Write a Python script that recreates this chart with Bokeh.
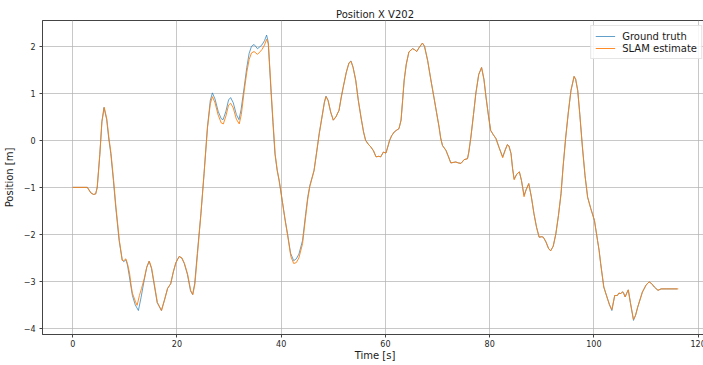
from bokeh.plotting import figure
from bokeh.models import Range1d, FixedTicker, Legend, LegendItem
from bokeh.embed import file_html
from bokeh.resources import INLINE

# ---------------- data ----------------
gt_t = [0, 2.8, 3.5, 4.0, 4.4, 4.7, 5.2, 5.6, 6.0, 6.5, 6.9, 7.3, 7.8, 8.25, 8.9, 9.5, 9.8,
        10.2, 10.5, 10.8, 11.45, 12.0, 12.6, 13.1, 13.7, 14.2, 14.65, 15.1, 15.6, 16.2, 17.0,
        17.6, 18.2, 18.8, 19.3, 19.8, 20.4, 20.9, 21.4, 22.0, 22.6, 23.0, 23.4, 23.9, 24.6,
        25.2, 25.85, 26.4, 26.8, 27.3, 27.9, 28.5, 28.85, 29.4, 29.9, 30.3, 30.8, 31.4, 31.9,
        32.3, 32.9, 33.4, 33.85, 34.3, 34.8, 35.45, 35.9, 36.3, 36.8, 37.2, 37.5, 38.0, 38.4,
        38.8, 39.2, 39.6, 40.2, 40.7, 41.2, 41.8, 42.4, 42.9, 43.4, 44.1, 44.7, 45.1, 45.5,
        46.3, 46.8, 47.3, 47.9, 48.3, 48.6, 49.0, 49.5, 50.0, 50.5, 51.1, 51.5, 51.9, 52.5,
        53.0, 53.4, 53.8, 54.3, 54.8, 55.3, 55.8, 56.2, 56.7, 57.2, 57.7, 58.2, 58.7, 59.1,
        59.6, 60.1, 60.5, 60.8, 61.2, 61.7, 62.2, 62.6, 63.0, 63.3, 63.6, 64.0, 64.5, 65.2,
        65.6, 66.0, 66.5, 67.1, 67.5, 68.1, 68.7, 69.3, 69.8, 70.3, 70.6, 70.95, 71.6, 72.0,
        72.55, 73.0, 73.5, 74.0, 74.5, 75.1, 75.75, 76.0, 76.4, 76.9, 77.35, 77.9, 78.45,
        78.9, 79.3, 79.8, 80.2, 80.7, 81.2, 81.8, 82.5, 83.0, 83.4, 83.7, 84.1, 84.4, 84.7,
        85.2, 85.7, 86.1, 86.6, 87.0, 87.5, 88.0, 88.5, 89.0, 89.5, 90.0, 90.3, 90.8, 91.3,
        91.7, 92.2, 92.7, 93.2, 93.7, 94.1, 94.6, 95.1, 95.6, 96.2, 96.5, 96.9, 97.3, 97.8,
        98.3, 98.8, 99.4, 100.1, 100.7, 101.0, 101.3, 101.9, 102.5, 103.0, 103.45, 104.0,
        104.5, 104.8, 105.2, 105.5, 105.7, 106.0, 106.3, 106.6, 107.0, 107.6, 108.0, 108.4,
        109.3, 110.0, 110.6, 111.1, 111.6, 112.3, 112.9, 114.0, 116.0]

gt_x = [-1.00, -1.00, -1.12, -1.15, -1.14, -1.00, -0.30, 0.40, 0.70, 0.45, 0.05, -0.28, -0.85,
        -1.42, -2.13, -2.55, -2.58, -2.54, -2.65, -2.85, -3.30, -3.50, -3.62, -3.35, -2.98,
        -2.70, -2.57, -2.72, -3.05, -3.45, -3.62, -3.40, -3.15, -3.05, -2.80, -2.60, -2.47,
        -2.50, -2.62, -2.85, -3.20, -3.28, -3.05, -2.41, -1.56, -0.71, 0.28, 0.85, 1.01, 0.88,
        0.62, 0.46, 0.44, 0.62, 0.86, 0.91, 0.80, 0.55, 0.44, 0.65, 1.13, 1.55, 1.85, 2.00,
        2.04, 1.95, 1.99, 2.03, 2.12, 2.24, 2.10, 1.13, 0.40, -0.28, -0.62, -0.85, -1.28,
        -1.65, -1.98, -2.40, -2.56, -2.52, -2.42, -2.13, -1.56, -1.20, -0.96, -0.64, -0.25,
        0.15, 0.55, 0.82, 0.94, 0.85, 0.60, 0.43, 0.50, 0.64, 0.90, 1.13, 1.45, 1.65, 1.69,
        1.55, 1.28, 0.85, 0.50, 0.18, 0.00, -0.08, -0.14, -0.22, -0.35, -0.34, -0.35, -0.25,
        -0.27, -0.12, 0.00, 0.10, 0.18, 0.22, 0.25, 0.43, 0.85, 1.28, 1.62, 1.88, 1.95, 1.93,
        1.89, 1.98, 2.07, 2.00, 1.70, 1.30, 0.92, 0.60, 0.28, 0.05, -0.11, -0.21, -0.32,
        -0.48, -0.47, -0.46, -0.48, -0.49, -0.41, -0.39, -0.25, 0.07, 0.55, 1.00, 1.40, 1.55,
        1.30, 0.92, 0.50, 0.21, 0.12, 0.04, -0.15, -0.35, -0.20, -0.09, -0.12, -0.28, -0.60,
        -0.82, -0.72, -0.67, -0.85, -1.17, -1.05, -0.92, -1.20, -1.56, -1.85, -2.06, -2.05,
        -2.06, -2.16, -2.30, -2.35, -2.25, -1.99, -1.60, -1.13, -0.55, 0.07, 0.60, 1.06, 1.36,
        1.30, 1.06, 0.55, -0.14, -0.75, -1.21, -1.45, -1.70, -2.13, -2.34, -2.62, -3.12,
        -3.33, -3.50, -3.62, -3.30, -3.30, -3.25, -3.26, -3.22, -3.25, -3.33, -3.25, -3.18,
        -3.45, -3.83, -3.72, -3.55, -3.23, -3.08, -3.01, -3.05, -3.12, -3.19, -3.16, -3.16,
        -3.16]

slam_t = [0, 2.8, 3.5, 4.0, 4.4, 4.7, 5.2, 5.6, 6.05, 6.55, 6.95, 7.35, 7.85, 8.3, 8.95, 9.5,
          9.8, 10.2, 10.5, 10.9, 11.2, 11.45, 12.0, 12.35, 12.8, 13.2, 13.7, 14.2, 14.7, 15.15,
          15.65, 16.25, 17.05, 17.6, 18.2, 18.8, 19.3, 19.8, 20.45, 20.95, 21.45, 22.05,
          22.65, 23.05, 23.45, 23.95, 24.6, 25.2, 25.85, 26.4, 26.8, 27.3, 27.9, 28.5, 28.9,
          29.4, 29.9, 30.3, 30.8, 31.4, 31.95, 32.35, 32.9, 33.4, 33.85, 34.3, 34.8, 35.45,
          35.9, 36.3, 36.8, 37.2, 37.55, 38.05, 38.45, 38.85, 39.25, 39.65, 40.25, 40.75,
          41.25, 41.85, 42.4, 42.9, 43.4, 44.1, 44.7, 45.1, 45.5, 46.3, 46.8, 47.3, 47.9, 48.3,
          48.6, 49.0, 49.5, 50.0, 50.5, 51.1, 51.5, 51.9, 52.5, 53.0, 53.4, 53.8, 54.3, 54.8,
          55.3, 55.8, 56.2, 56.7, 57.2, 57.7, 58.2, 58.7, 59.1, 59.6, 60.1, 60.5, 60.8, 61.2,
          61.7, 62.2, 62.6, 63.0, 63.3, 63.6, 64.0, 64.5, 65.2, 65.6, 66.0, 66.5, 67.1, 67.5,
          68.1, 68.7, 69.3, 69.8, 70.3, 70.6, 70.95, 71.6, 72.0, 72.55, 73.0, 73.5, 74.0, 74.5,
          75.1, 75.75, 76.0, 76.4, 76.9, 77.35, 77.9, 78.45, 78.9, 79.3, 79.8, 80.2, 80.7,
          81.2, 81.8, 82.5, 83.0, 83.4, 83.7, 84.1, 84.4, 84.7, 85.2, 85.7, 86.1, 86.6, 87.0,
          87.5, 88.0, 88.5, 89.0, 89.5, 90.0, 90.3, 90.8, 91.3, 91.7, 92.2, 92.7, 93.2, 93.7,
          94.1, 94.6, 95.1, 95.6, 96.2, 96.5, 96.9, 97.3, 97.8, 98.3, 98.8, 99.4, 100.1, 100.7,
          101.0, 101.3, 101.9, 102.5, 103.0, 103.45, 104.0, 104.5, 104.8, 105.2, 105.5, 105.7,
          106.0, 106.3, 106.6, 107.0, 107.6, 108.0, 108.4, 109.3, 110.0, 110.6, 111.1, 111.6,
          112.3, 112.9, 114.0, 116.2]

slam_x = [-1.00, -1.00, -1.12, -1.15, -1.14, -1.00, -0.30, 0.40, 0.70, 0.45, 0.05, -0.28, -0.85,
          -1.42, -2.13, -2.55, -2.56, -2.52, -2.62, -2.82, -3.08, -3.25, -3.42, -3.51, -3.30,
          -3.15, -2.95, -2.70, -2.57, -2.72, -3.05, -3.45, -3.62, -3.40, -3.15, -3.05, -2.80,
          -2.60, -2.47, -2.50, -2.62, -2.85, -3.20, -3.28, -3.05, -2.41, -1.56, -0.71, 0.26,
          0.78, 0.93, 0.80, 0.54, 0.37, 0.35, 0.52, 0.75, 0.79, 0.69, 0.45, 0.35, 0.55, 1.05,
          1.45, 1.72, 1.86, 1.89, 1.83, 1.88, 1.93, 2.03, 2.15, 2.05, 1.10, 0.38, -0.30, -0.64,
          -0.88, -1.32, -1.70, -2.03, -2.47, -2.62, -2.60, -2.50, -2.20, -1.62, -1.25, -0.98,
          -0.65, -0.26, 0.14, 0.54, 0.81, 0.93, 0.85, 0.60, 0.43, 0.50, 0.64, 0.90, 1.13, 1.45,
          1.64, 1.68, 1.55, 1.28, 0.85, 0.50, 0.18, 0.00, -0.08, -0.14, -0.22, -0.35, -0.34,
          -0.35, -0.25, -0.27, -0.12, 0.00, 0.10, 0.18, 0.22, 0.25, 0.43, 0.85, 1.28, 1.62,
          1.88, 1.95, 1.93, 1.89, 1.98, 2.07, 2.00, 1.70, 1.30, 0.92, 0.60, 0.28, 0.05, -0.11,
          -0.21, -0.32, -0.48, -0.47, -0.46, -0.48, -0.49, -0.41, -0.39, -0.25, 0.07, 0.55,
          1.00, 1.40, 1.55, 1.30, 0.92, 0.50, 0.21, 0.12, 0.04, -0.15, -0.37, -0.20, -0.09,
          -0.12, -0.28, -0.60, -0.84, -0.72, -0.67, -0.85, -1.20, -1.05, -0.92, -1.20, -1.56,
          -1.85, -2.06, -2.05, -2.06, -2.16, -2.30, -2.35, -2.25, -1.99, -1.60, -1.13, -0.55,
          0.07, 0.60, 1.06, 1.36, 1.30, 1.06, 0.55, -0.14, -0.75, -1.21, -1.45, -1.70, -2.13,
          -2.34, -2.62, -3.12, -3.33, -3.50, -3.60, -3.30, -3.30, -3.25, -3.26, -3.22, -3.25,
          -3.33, -3.25, -3.18, -3.45, -3.81, -3.72, -3.55, -3.23, -3.08, -3.01, -3.05, -3.12,
          -3.19, -3.16, -3.16, -3.16]

x_ticks = [0, 20, 40, 60, 80, 100, 120]
y_ticks = [-4, -3, -2, -1, 0, 1, 2]
y_tick_labels = ["\u22124", "\u22123", "\u22122", "\u22121", "0", "1", "2"]

# ---------------- figure ----------------
FONT = "DejaVu Sans"
p = figure(frame_width=665, frame_height=314, output_backend="svg", toolbar_location=None,
           x_range=Range1d(-5.8, 121.8), y_range=Range1d(-4.13, 2.55),
           min_border_left=0, min_border_right=0, min_border_top=20, min_border_bottom=0)

p.title.text = "Position X V202"
p.title.align = "center"
p.title.text_font = FONT
p.title.text_font_size = "10px"
p.title.text_font_style = "normal"
p.title.text_color = "#1a1a1a"
p.title.standoff = 2

p.outline_line_color = "#444444"
p.outline_line_width = 1
p.outline_line_alpha = 1.0

for ax in (p.xaxis[0], p.yaxis[0]):
    ax.axis_line_color = "#444444"
    ax.major_tick_line_color = "#444444"
    ax.major_tick_out = 3
    ax.major_tick_in = 0
    ax.minor_tick_line_color = None
    ax.major_label_text_font = FONT
    ax.major_label_text_font_size = "8px"
    ax.major_label_text_color = "#262626"
    ax.axis_label_text_font = FONT
    ax.axis_label_text_font_size = "10px"
    ax.axis_label_text_font_style = "normal"
    ax.axis_label_text_color = "#1a1a1a"

p.xaxis[0].major_label_standoff = 2
p.yaxis[0].major_label_standoff = 4
p.xaxis[0].ticker = FixedTicker(ticks=x_ticks)
p.yaxis[0].ticker = FixedTicker(ticks=y_ticks)
p.yaxis[0].major_label_overrides = {t: s for t, s in zip(y_ticks, y_tick_labels)}
p.xaxis[0].axis_label = "Time [s]"
p.yaxis[0].axis_label = "Position [m]"
p.xaxis[0].axis_label_standoff = 0
p.yaxis[0].axis_label_standoff = 6

p.xgrid.ticker = FixedTicker(ticks=x_ticks)
p.ygrid.ticker = FixedTicker(ticks=y_ticks)
for g in (p.xgrid[0], p.ygrid[0]):
    g.grid_line_color = "#b0b0b0"
    g.grid_line_alpha = 0.7
    g.grid_line_width = 1

r_gt = p.line(gt_t, gt_x, line_color="#1f77b4", line_width=1.0, line_alpha=0.7)
r_sl = p.line(slam_t, slam_x, line_color="#ff7f0e", line_width=1.0, line_alpha=0.9)

legend = Legend(items=[LegendItem(label="Ground truth", renderers=[r_gt]),
                       LegendItem(label="SLAM estimate", renderers=[r_sl])],
                location="top_right")
legend.label_text_font = FONT
legend.label_text_font_size = "10px"
legend.label_text_color = "#1a1a1a"
legend.border_line_color = "#cccccc"
legend.border_line_width = 1
legend.background_fill_alpha = 0.85
legend.spacing = 0
legend.padding = 4
legend.margin = 5
legend.glyph_width = 20
legend.glyph_height = 12
legend.label_height = 12
legend.label_standoff = 7
p.add_layout(legend)

open("out.html", "w").write(file_html(p, INLINE))
